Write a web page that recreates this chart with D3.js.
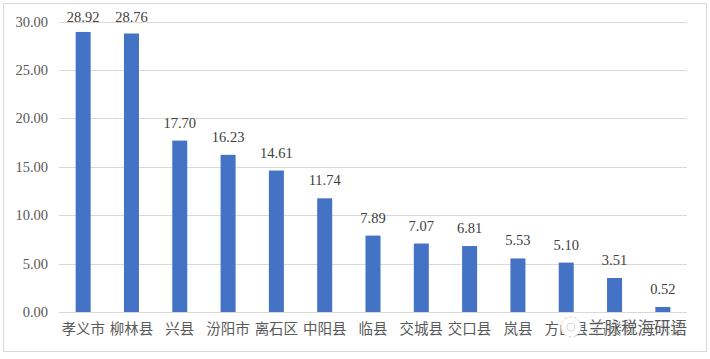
<!DOCTYPE html>
<html lang="zh">
<head>
<meta charset="UTF-8">
<title>吕梁各县数据</title>
<script src="https://d3js.org/d3.v7.min.js"></script>
<style>
  html, body { margin: 0; padding: 0; background: #fff; }
  svg { display: block; }
</style>
</head>
<body>
<svg width="710" height="359"></svg>
<script>
const categories = ["孝义市", "柳林县", "兴县", "汾阳市", "离石区", "中阳县", "临县", "交城县", "交口县", "岚县", "方山县", "石楼县", "文水县"];
const values = [28.92, 28.76, 17.70, 16.23, 14.61, 11.74, 7.89, 7.07, 6.81, 5.53, 5.10, 3.51, 0.52];
const yTicks = [0, 5, 10, 15, 20, 25, 30];
const watermark = "兰脉税海研语";

const svg = d3.select("svg");
const latin = "'Liberation Serif', serif";
const cjk = "'Noto Sans CJK SC', sans-serif";

// chart frame
svg.append("rect")
    .attr("x", 3.5).attr("y", 3.5)
    .attr("width", 703).attr("height", 348)
    .attr("fill", "#fff")
    .attr("stroke", "#d9d9d9");

const x = d3.scaleBand().domain(categories).range([59, 687]);
const y = d3.scaleLinear().domain([0, 30]).range([312, 21.5]);

// grid lines
svg.append("g").selectAll("line")
    .data(yTicks)
    .join("line")
    .attr("x1", 59).attr("x2", 687)
    .attr("y1", d => Math.round(y(d)) + 0.5)
    .attr("y2", d => Math.round(y(d)) + 0.5)
    .attr("stroke", "#d9d9d9");

// y labels
svg.append("g").selectAll("text")
    .data(yTicks)
    .join("text")
    .attr("x", 48)
    .attr("y", d => y(d) + 5)
    .attr("text-anchor", "end")
    .attr("font-family", latin)
    .attr("font-size", 14.5)
    .attr("fill", "#595959")
    .text(d => d.toFixed(2));

// bars
svg.append("g").selectAll("rect")
    .data(values)
    .join("rect")
    .attr("x", (d, i) => x(categories[i]) + x.bandwidth() / 2 - 7.5)
    .attr("y", d => y(d))
    .attr("width", 15)
    .attr("height", d => y(0) - y(d))
    .attr("fill", "#4472c4");

// value labels, the two tallest get pushed against the top of the plot
svg.append("g").selectAll("text")
    .data(values)
    .join("text")
    .attr("x", (d, i) => x(categories[i]) + x.bandwidth() / 2)
    .attr("y", d => Math.max(y(d) - 13, 22))
    .attr("text-anchor", "middle")
    .attr("font-family", latin)
    .attr("font-size", 14.5)
    .attr("fill", "#404040")
    .text(d => d.toFixed(2));

// category labels
svg.append("g").selectAll("text")
    .data(categories)
    .join("text")
    .attr("x", d => x(d) + x.bandwidth() / 2)
    .attr("y", 334)
    .attr("text-anchor", "middle")
    .attr("font-family", cjk)
    .attr("font-size", 14.5)
    .attr("fill", "#595959")
    .text(d => d);

// watermark sits on top of the last labels
const mark = svg.append("g");
mark.append("circle")
    .attr("cx", 571).attr("cy", 327).attr("r", 10)
    .attr("fill", "#fff")
    .attr("stroke", "#d0d0d0")
    .attr("stroke-dasharray", "3 2");
mark.append("circle")
    .attr("cx", 571).attr("cy", 327).attr("r", 4)
    .attr("fill", "none")
    .attr("stroke", "#d8d8d8");
mark.append("text")
    .attr("x", 687)
    .attr("y", 334)
    .attr("text-anchor", "end")
    .attr("font-family", cjk)
    .attr("font-size", 16.5)
    .attr("fill", "#555")
    .attr("stroke", "#fff")
    .attr("stroke-width", 1.2)
    .attr("paint-order", "stroke")
    .text(watermark);
</script>
</body>
</html>
